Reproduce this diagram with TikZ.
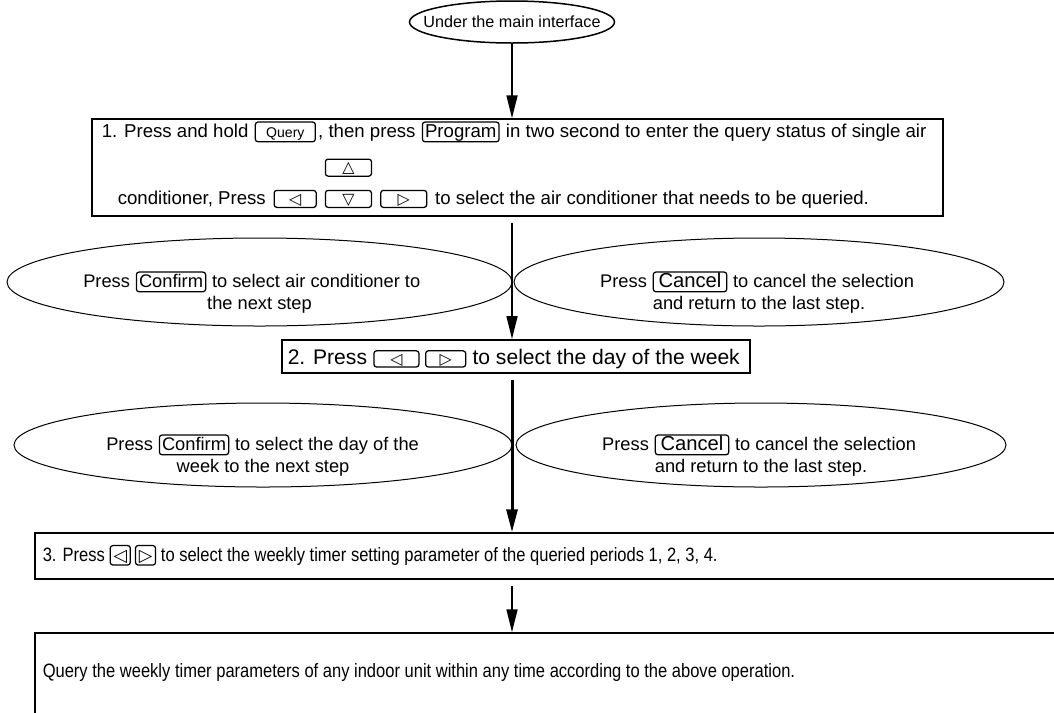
\documentclass[tikz,border=0pt]{standalone}
\usepackage{fontspec}
\setmainfont{Liberation Sans}
\newfontfamily\keysym{DejaVu Sans}
\newfontfamily\narrowfont[FakeStretch=0.855]{Liberation Sans}
\usetikzlibrary{arrows.meta, positioning, shapes.geometric}
\tikzset{
  every picture/.style={line width=0.3mm},
  stepbox/.style={draw, line width=#1, inner sep=0pt},
  stepbox/.default=0.3mm,
  oval/.style={draw, ellipse, line width=0.2mm, inner sep=0pt},
  txt/.style={inner sep=0pt, font=\fontsize{#1}{#1}\selectfont},
  txt/.default=10.6,
  narrow/.style={inner sep=0pt, font=\narrowfont\fontsize{11}{11}\selectfont},
  key/.style={draw, rounded corners=1.5pt, line width=0.25mm, inner xsep=1.5pt, inner ysep=0.5pt,
    text height=8pt, text depth=2.2pt},
  arrowkey/.style={key, font=\keysym\fontsize{9}{9}\selectfont, text height=7pt, text depth=1.2pt,
    minimum width=#1, minimum height=3.4mm},
  flow/.style={-{Triangle[length=4.6mm, width=2.2mm]}, line width=0.35mm},
}
\begin{document}
\begin{tikzpicture}[x=0.2mm, y=-0.2mm]
  \useasboundingbox (0,0) rectangle (1054,712);
  \clip (0,0) rectangle (1054,712);
  \coordinate (axis) at (512,0);
  % start
  \node[oval, line width=0.3mm, minimum width=41mm, minimum height=8.4mm, inner xsep=-10pt,
    font=\fontsize{9.2}{10}\selectfont] (start) at (512,22) {Under the main interface};
  % step 1
  \node[stepbox, minimum width=170.2mm, minimum height=19.4mm] (box1) at (517.5,167.5) {};
  \node[txt, anchor=base west] (s1a) at (101,137) {1. Press and hold};
  \node[key, minimum width=12mm, font=\fontsize{8}{8}\selectfont, base right=1.1mm of s1a] (kquery) {Query};
  \node[txt, base right=0.3mm of kquery] (s1b) {, then press};
  \node[key, font=\fontsize{10.6}{11}\selectfont, base right=1.1mm of s1b] (kprog) {Program};
  \node[txt, base right=1.1mm of kprog] (s1c) {in two second to enter the query status of single air};
  \node[txt, anchor=base west] (s1d) at (117,204) {conditioner, Press};
  \node[arrowkey=8.4mm, base right=1.4mm of s1d] (kleft1) {◁};
  \node[arrowkey=9.2mm, base right=1.6mm of kleft1] (kdown1) {▽};
  \node[arrowkey=9.2mm, base right=1.6mm of kdown1] (kright1) {▷};
  \node[arrowkey=9.2mm, above=2.6mm of kdown1] (kup1) {△};
  \node[txt, base right=1.4mm of kright1] (s1e) {to select the air conditioner that needs to be queried.};
  % confirm / cancel after step 1
  \node[oval, minimum width=101mm, minimum height=17.6mm] (okA) at (259.5,282) {};
  \node[oval, minimum width=98mm, minimum height=17.6mm] (noA) at (759,282) {};
  \node[key, font=\fontsize{10.4}{11}\selectfont, anchor=base] (kokA) at (171,287) {Confirm};
  \node[txt=10.4, base left=1mm of kokA] (okA1) {Press};
  \node[txt=10.4, base right=1mm of kokA] (okA2) {to select air conditioner to};
  \node[txt=10.4, anchor=base] (okA3) at (259.5,309) {the next step};
  \node[key, font=\fontsize{11.5}{12}\selectfont, inner xsep=3pt, anchor=base] (knoA) at (690,287) {Cancel};
  \node[txt=10.4, base left=1mm of knoA] (noA1) {Press};
  \node[txt=10.4, base right=1mm of knoA] (noA2) {to cancel the selection};
  \node[txt=10.4, anchor=base] (noA3) at (759,309) {and return to the last step.};
  % step 2
  \node[stepbox=0.4mm, minimum width=93.6mm, minimum height=6.6mm] (box2) at (516,356.5) {};
  \node[txt=12, anchor=base west] (s2a) at (287,364) {2. Press};
  \node[arrowkey=9mm, minimum height=3.2mm, base right=1.1mm of s2a] (kleft2) {◁};
  \node[arrowkey=8mm, minimum height=3.2mm, base right=1.1mm of kleft2] (kright2) {▷};
  \node[txt=12, base right=1.1mm of kright2] (s2b) {to select the day of the week};
  % confirm / cancel after step 2
  \node[oval, minimum width=99.6mm, minimum height=16.8mm] (okB) at (263,445) {};
  \node[oval, minimum width=98mm, minimum height=16.8mm] (noB) at (761,445) {};
  \node[key, font=\fontsize{10.4}{11}\selectfont, anchor=base] (kokB) at (194,450) {Confirm};
  \node[txt=10.4, base left=1mm of kokB] (okB1) {Press};
  \node[txt=10.4, base right=1mm of kokB] (okB2) {to select the day of the};
  \node[txt=10.4, anchor=base] (okB3) at (263,472) {week to the next step};
  \node[key, font=\fontsize{11.5}{12}\selectfont, inner xsep=3pt, anchor=base] (knoB) at (692,450) {Cancel};
  \node[txt=10.4, base left=1mm of knoB] (noB1) {Press};
  \node[txt=10.4, base right=1mm of knoB] (noB2) {to cancel the selection};
  \node[txt=10.4, anchor=base] (noB3) at (761,472) {and return to the last step.};
  % step 3
  \node[stepbox, minimum width=209mm, minimum height=9.2mm] (box3) at (557.5,556) {};
  \node[narrow, anchor=base west] (s3a) at (42,561) {3. Press};
  \node[arrowkey=4mm, font=\keysym\fontsize{10}{10}\selectfont, text height=8pt, text depth=1.5pt, minimum height=3.9mm, base right=0.8mm of s3a] (kleft3) {◁};
  \node[arrowkey=4mm, font=\keysym\fontsize{10}{10}\selectfont, text height=8pt, text depth=1.5pt, minimum height=3.9mm, base right=0.8mm of kleft3] (kright3) {▷};
  \node[narrow, base right=0.8mm of kright3] (s3b) {to select the weekly timer setting parameter of the queried periods 1, 2, 3, 4.};
  % result
  \node[stepbox, minimum width=209mm, minimum height=25.4mm] (box4) at (557.5,696.5) {};
  \node[narrow, anchor=base west] (s4) at (42,677) {Query the weekly timer parameters of any indoor unit within any time according to the above operation.};
  % arrows
  \draw[flow] (axis |- start.south) -- (axis |- box1.north);
  \draw[flow, shorten <=1.2mm] (axis |- box1.south) -- (axis |- box2.north);
  \draw[flow, line width=0.6mm, shorten <=1.2mm] (axis |- box2.south) -- (axis |- box3.north);
  \draw[flow, shorten <=1.2mm] (axis |- box3.south) -- (axis |- box4.north);
\end{tikzpicture}
\end{document}
